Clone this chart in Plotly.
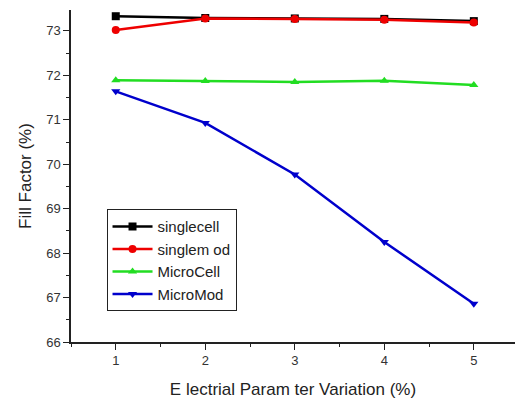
import plotly.graph_objects as go

# Electrical parameter variation (%) on the x axis
variation = [1, 2, 3, 4, 5]

# Fill factor (%) for each configuration
singlecell = [73.33, 73.29, 73.28, 73.27, 73.22]
singlemod = [73.02, 73.28, 73.27, 73.25, 73.19]
microcell = [71.89, 71.87, 71.85, 71.88, 71.78]
micromod = [71.64, 70.93, 69.77, 68.25, 66.86]

series = [
    ("singlecell", singlecell, "#000000", "square"),
    ("singlem od", singlemod, "#ee0000", "circle"),
    ("MicroCell", microcell, "#22dd22", "triangle-up"),
    ("MicroMod", micromod, "#0000cc", "triangle-down"),
]

fig = go.Figure()
for name, vals, color, sym in series:
    fig.add_trace(go.Scatter(
        x=variation, y=vals, name=name, mode="lines+markers",
        line=dict(color=color, width=2.5),
        marker=dict(color=color, symbol=sym, size=8),
    ))

family = "Liberation Sans, Arial, sans-serif"

fig.update_layout(
    width=515, height=399,
    margin=dict(l=71, r=0, t=10, b=57),
    paper_bgcolor="white", plot_bgcolor="white",
    font=dict(family=family, size=13, color="#333333"),
    showlegend=True,
    legend=dict(
        x=0.08, y=0.40, xanchor="left", yanchor="top",
        bordercolor="#222222", borderwidth=1, bgcolor="white",
        font=dict(family=family, size=15, color="#222222"),
        tracegroupgap=0, itemwidth=40,
    ),
)

fig.update_xaxes(
    range=[0.5, 5.46], tickvals=variation, ticktext=[str(v) for v in variation],
    showgrid=False, zeroline=False,
    showline=True, linecolor="#222222", linewidth=1.5,
    ticks="outside", ticklen=6, tickcolor="#222222",
    minor=dict(dtick=0.5, tick0=0.5, ticks="outside", ticklen=3, tickcolor="#222222"),
    title=dict(text="E lectrial Param ter Variation (%)", standoff=16,
               font=dict(family=family, size=17, color="#222222")),
)
fig.update_yaxes(
    range=[66, 73.47], dtick=1, tick0=66,
    showgrid=False, zeroline=False,
    showline=True, linecolor="#222222", linewidth=1.5,
    ticks="outside", ticklen=6, tickcolor="#222222",
    minor=dict(dtick=0.5, tick0=66, ticks="outside", ticklen=3, tickcolor="#222222"),
    title=dict(text="Fill Factor (%)", standoff=10,
               font=dict(family=family, size=17, color="#222222")),
)

fig.write_html("out.html")
